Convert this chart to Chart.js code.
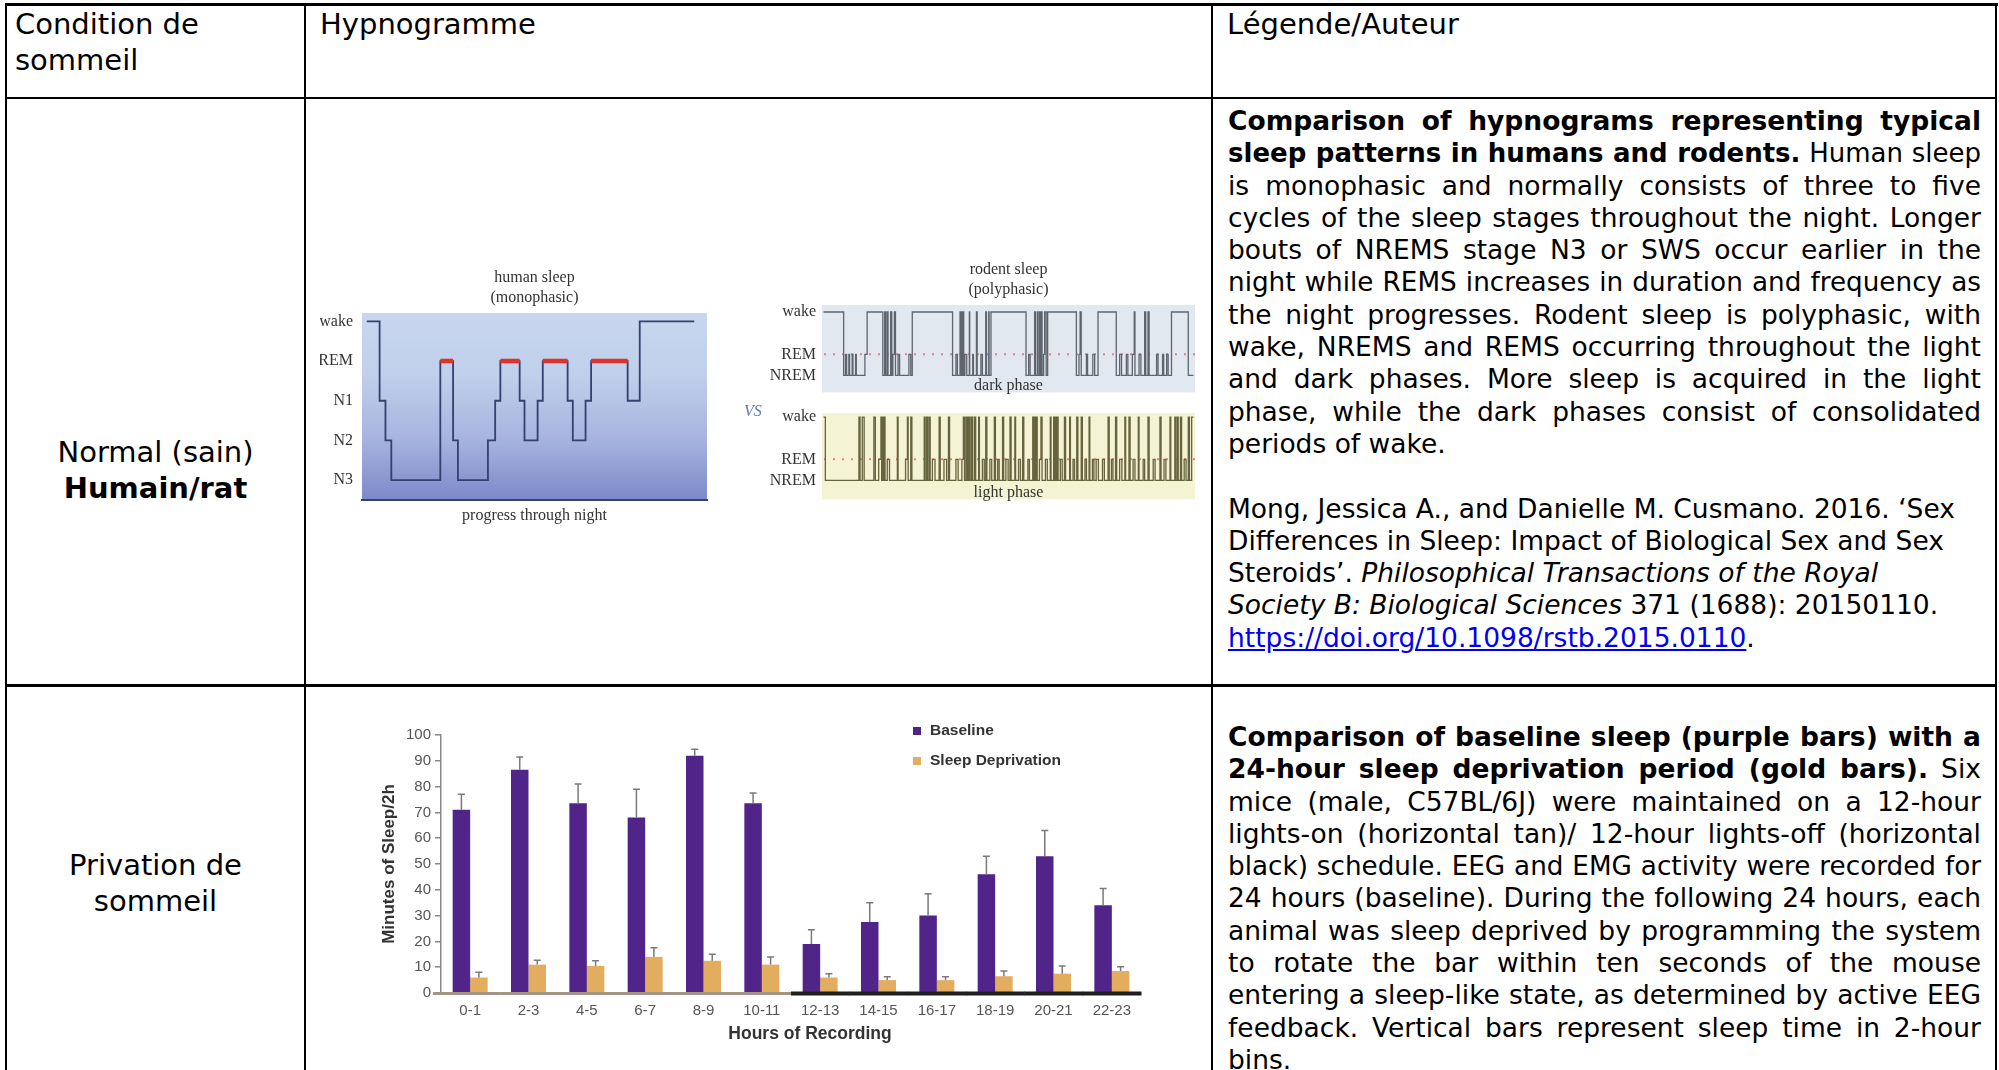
<!DOCTYPE html>
<html><head><meta charset="utf-8">
<script src="https://cdn.jsdelivr.net/npm/chart.js@4.4.1/dist/chart.umd.min.js"></script>
<style>
html,body{margin:0;padding:0;background:#fff;}
#page{position:relative;width:1999px;height:1070px;overflow:hidden;font-family:"DejaVu Sans",Verdana,sans-serif;color:#000;}
.rule{position:absolute;background:#000;}
.c1{position:absolute;font-size:29px;line-height:36px;white-space:nowrap;}
.body{position:absolute;left:1228px;width:753px;font-size:26.5px;}
.ln{white-space:nowrap;height:32.3px;line-height:32.3px;overflow:visible;}
.j{text-align:justify;text-align-last:justify;}
canvas{position:absolute;}
a{color:#0000ee;text-decoration:underline;}
#vs{position:absolute;left:744px;top:402px;font:italic 16px "Liberation Serif",serif;color:#5b7fbf;}
</style></head>
<body><div id="page">
<!-- table rules -->
<div class="rule" style="left:5px;top:3px;width:1993px;height:3px"></div>
<div class="rule" style="left:5px;top:3px;width:2px;height:1067px"></div>
<div class="rule" style="left:304px;top:3px;width:2px;height:1067px"></div>
<div class="rule" style="left:1211px;top:3px;width:2px;height:1067px"></div>
<div class="rule" style="left:1995px;top:3px;width:2px;height:1067px"></div>
<div class="rule" style="left:5px;top:97px;width:1992px;height:2px"></div>
<div class="rule" style="left:5px;top:684px;width:1992px;height:3px"></div>

<!-- header -->
<div class="c1" style="left:15px;top:6px">Condition de<br>sommeil</div>
<div class="c1" style="left:320px;top:6px">Hypnogramme</div>
<div class="c1" style="left:1227px;top:6px">Légende/Auteur</div>

<!-- column 1 -->
<div class="c1" style="left:7px;width:297px;text-align:center;top:434px">Normal (sain)<br><b>Humain/rat</b></div>
<div class="c1" style="left:7px;width:297px;text-align:center;top:847px">Privation de<br>sommeil</div>

<!-- column 3, row 2 -->
<div class="body" style="top:105px">
<div class="ln j"><b>Comparison of hypnograms representing typical</b></div>
<div class="ln j"><b>sleep patterns in humans and rodents.</b> Human sleep</div>
<div class="ln j">is monophasic and normally consists of three to five</div>
<div class="ln j">cycles of the sleep stages throughout the night. Longer</div>
<div class="ln j">bouts of NREMS stage N3 or SWS occur earlier in the</div>
<div class="ln j">night while REMS increases in duration and frequency as</div>
<div class="ln j">the night progresses. Rodent sleep is polyphasic, with</div>
<div class="ln j">wake, NREMS and REMS occurring throughout the light</div>
<div class="ln j">and dark phases. More sleep is acquired in the light</div>
<div class="ln j">phase, while the dark phases consist of consolidated</div>
<div class="ln">periods of wake.</div>
<div class="ln"></div>
<div class="ln">Mong, Jessica A., and Danielle M. Cusmano. 2016. ‘Sex</div>
<div class="ln">Differences in Sleep: Impact of Biological Sex and Sex</div>
<div class="ln">Steroids’. <i>Philosophical Transactions of the Royal</i></div>
<div class="ln"><i>Society B: Biological Sciences</i> 371 (1688): 20150110.</div>
<div class="ln"><a href="#">https://doi.org/10.1098/rstb.2015.0110</a>.</div>
</div>

<!-- column 3, row 3 -->
<div class="body" style="top:721px">
<div class="ln j"><b>Comparison of baseline sleep (purple bars) with a</b></div>
<div class="ln j"><b>24-hour sleep deprivation period (gold bars).</b> Six</div>
<div class="ln j">mice (male, C57BL/6J) were maintained on a 12-hour</div>
<div class="ln j">lights-on (horizontal tan)/ 12-hour lights-off (horizontal</div>
<div class="ln j">black) schedule. EEG and EMG activity were recorded for</div>
<div class="ln j">24 hours (baseline). During the following 24 hours, each</div>
<div class="ln j">animal was sleep deprived by programming the system</div>
<div class="ln j">to rotate the bar within ten seconds of the mouse</div>
<div class="ln j">entering a sleep-like state, as determined by active EEG</div>
<div class="ln j">feedback. Vertical bars represent sleep time in 2-hour</div>
<div class="ln">bins.</div>
</div>

<canvas id="human" width="390" height="263" style="left:320px;top:262px"></canvas>
<canvas id="dark" width="460" height="153" style="left:740px;top:255px"></canvas>
<canvas id="light" width="460" height="120" style="left:740px;top:395px"></canvas>
<div id="vs">VS</div>
<canvas id="bars" width="800" height="345" style="left:360px;top:705px"></canvas>
</div>

<script>
// ---------------- DATA ----------------
// Human hypnogram (progress through night, 0-100) ; stages: 0=N3 1=N2 2=N1 3=REM 4=wake
const humanStageLabels = ['N3', 'N2', 'N1', 'REM', 'wake'];
const humanT = [1.4, 5.1, 6.8, 8.5, 22.7, 26.4, 27.8, 36.5, 38.6, 40.1, 45.7, 47.1, 50.9, 52.4, 59.6, 61.1, 64.8, 66.4, 77.0, 80.5, 96.3];
const humanStage = [4, 2, 1, 0, 3, 1, 0, 1, 2, 3, 2, 1, 2, 3, 2, 1, 2, 3, 2, 4, 4];
const remStart = [22.7, 40.1, 52.4, 66.4];
const remEnd = [26.4, 45.7, 59.6, 77.0];

// Rodent hypnograms (progress through phase, 0-100) ; stages: 0=NREM 1=REM 3=wake
const rodentStageValues = [0, 1, 3];
const rodentStageLabels = ['NREM', 'REM', 'wake'];
const darkT = [0.4,5.8,6.3,6.6,7.2,7.4,8.1,8.3,9.0,9.2, 11.5,12.1,16.3,16.8,17.0,17.4,17.7,18.4,18.7,19.0,
  19.4,19.7,20.4,20.8,23.3,23.8,24.2,35.0,35.9,36.3, 37.0,37.1,37.4,37.6,37.8,38.0,38.3,38.8,39.5,39.6,
  40.4,40.6,41.4,41.6,42.6,43.0,43.9,44.1,44.7,44.8, 45.3,54.7,55.4,55.8,57.0,57.2,57.7,57.9,58.3,58.5,
  58.8,59.0,59.4,59.7,60.1,60.5,68.2,68.9,69.2,69.5, 70.9,71.2,72.6,73.1,74.0,78.9,79.8,80.3,81.6,82.0,
  83.2,83.7,83.9,85.0,85.5,86.5,86.8,87.4,87.7,89.7, 90.1,91.3,91.6,92.4,92.8,93.7,98.2,99.6];
const darkStage = [3,0,1,0,1,0,1,0,1,0, 1,3,0,3,0,3,0,3,0,1, 3,0,1,0,1,0,3,0,1,0, 3,0,3,0,3,0,1,0,3,0,
  1,0,3,0,1,0,3,0,3,0, 3,0,1,0,3,0,3,0,3,0, 3,0,1,3,0,3,0,1,3,0, 1,0,1,0,3,0,1,0,1,0,
  1,3,0,1,0,3,0,3,0,1, 0,1,0,1,0,3,0,0];
const lightT = [0.4,0.9,9.9,10.2,10.8,11.3,13.9,14.3,15.2,15.8, 16.0,16.2,16.4,16.7,16.9,17.5,18.1,20.2,20.4,22.4,
  22.9,23.1,23.8,24.1,27.4,27.6,28.0,28.3,28.7,29.0, 29.6,30.3,31.4,31.7,32.7,33.4,33.9,34.2,35.9,36.5,
  37.5,37.9,38.2,38.6,38.8,39.1,39.3,39.6,39.7,40.1, 40.4,40.9,41.2,42.0,42.2,43.0,43.5,43.9,44.2,45.0,
  45.5,46.2,46.5,47.1,47.5,48.4,48.7,49.3,49.9,50.4, 50.7,51.7,51.9,52.7,53.2,53.8,54.1,55.2,55.6,56.5,
  56.7,57.0,57.1,57.4,57.7,58.3,58.7,59.0,59.9,60.4, 61.2,61.4,62.1,62.2,62.5,62.7,63.0,63.3,63.9,64.4,
  65.0,65.3,66.4,66.6,67.3,67.7,68.3,68.6,69.5,69.8, 70.5,70.9,71.6,71.8,72.5,72.9,73.5,74.1,75.2,75.7,
  76.7,77.0,77.6,78.0,78.7,79.0,79.8,80.4,81.2,81.4, 82.3,82.6,83.4,83.9,84.8,85.0,86.1,86.5,87.4,87.7,
  88.8,89.3,90.6,90.9,91.7,92.2,93.3,93.5,94.6,94.8, 95.2,95.5,96.1,96.4,97.1,97.6,98.2,98.5,99.1,99.6];
const lightStage = [3,0,3,0,3,0,3,0,1,3, 0,3,0,3,0,1,0,3,0,1, 3,0,3,0,3,0,3,0,3,0, 1,0,3,0,1,0,3,0,1,0,
  1,3,0,3,0,3,0,3,0,3, 0,3,0,3,0,1,0,3,0,1, 0,3,0,1,0,3,0,1,0,3, 0,3,0,1,0,3,0,1,0,3,
  0,3,0,3,0,1,3,0,1,0, 3,0,3,0,3,0,3,0,1,0, 3,0,3,0,1,0,3,0,3,0, 1,0,3,0,1,0,1,0,1,0,
  3,0,1,0,3,0,1,0,3,0, 3,0,1,0,3,0,1,0,3,0, 1,0,3,0,1,0,3,0,3,0, 3,0,3,0,1,0,3,0,3,3];

// Sleep deprivation bar chart
const hourLabels = ['0-1','2-3','4-5','6-7','8-9','10-11','12-13','14-15','16-17','18-19','20-21','22-23'];
const baseline = [71, 86.5, 73.5, 68, 92, 73.5, 19, 27.5, 30, 46, 53, 34];
const baselineErr = [6, 5, 7.5, 11, 2.5, 4, 5.5, 7.5, 8.5, 7, 10, 6.5];
const deprivation = [6, 11, 10.5, 14, 12.5, 11, 6, 5, 5, 6.5, 7.5, 8.5];
const deprivationErr = [2, 1.7, 2, 3.5, 2.5, 3, 1.5, 1.3, 1.3, 2, 3, 1.7];
const lightsOff = [0,0,0,0,0,0,1,1,1,1,1,1];
const yTicksBar = [0,10,20,30,40,50,60,70,80,90,100];
const barXTitle = 'Hours of Recording';

// ---------------- text line fitting ----------------
document.querySelectorAll('.ln').forEach(el => {
  let fs = 26.5;
  while (el.scrollWidth > el.clientWidth + 0.5 && fs > 20) { fs -= 0.25; el.style.fontSize = fs + 'px'; }
});

// ---------------- CHARTS ----------------
Chart.defaults.font.family = "'Liberation Sans', Arial, sans-serif";
Chart.defaults.animation = false;
const serif = "'Liberation Serif', 'Times New Roman', serif";

const decor = {
  id: 'decor',
  beforeDraw(chart, args, o) {
    if (!o.bg) return;
    const a = chart.chartArea, ctx = chart.ctx;
    ctx.save();
    if (Array.isArray(o.bg)) {
      const g = ctx.createLinearGradient(0, a.top, 0, a.bottom);
      o.bg.forEach((c, i) => g.addColorStop(i / (o.bg.length - 1), c));
      ctx.fillStyle = g;
    } else ctx.fillStyle = o.bg;
    ctx.fillRect(a.left, a.top, a.right - a.left, a.bottom - a.top);
    ctx.restore();
  },
  beforeDatasetsDraw(chart, args, o) {
    if (o.refLevel === undefined) return;
    const a = chart.chartArea, ctx = chart.ctx, y = chart.scales.y.getPixelForValue(o.refLevel);
    ctx.save();
    ctx.strokeStyle = '#e48080'; ctx.lineWidth = 2; ctx.setLineDash([2, 7]);
    ctx.beginPath(); ctx.moveTo(a.left + 2, y); ctx.lineTo(a.right, y); ctx.stroke();
    ctx.restore();
  },
  afterDraw(chart, args, o) {
    const a = chart.chartArea, ctx = chart.ctx, cx = (a.left + a.right) / 2;
    ctx.save();
    ctx.fillStyle = '#333'; ctx.font = '16px ' + serif; ctx.textAlign = 'center'; ctx.textBaseline = 'middle';
    if (o.title) o.title.forEach((t, i) => ctx.fillText(t, cx, a.top - o.titleOffset + i * 20));
    if (o.phase) ctx.fillText(o.phase, cx, a.bottom - 7);
    ctx.restore();
  }
};
Chart.register(decor);

function stagePts(ts, ss) { return ts.map((t, i) => ({ x: t, y: ss[i] })); }

// Human hypnogram
const remPts = [];
remStart.forEach((s, i) => { remPts.push({ x: s, y: 3 }, { x: remEnd[i], y: 3 }, { x: remEnd[i], y: null }); });
new Chart(document.getElementById('human'), {
  type: 'line',
  data: { datasets: [
    { data: remPts, borderColor: '#e4302a', borderWidth: 4.5, pointRadius: 0, spanGaps: false, borderCapStyle: 'butt' },
    { data: stagePts(humanT, humanStage), stepped: true, borderColor: '#34406e', borderWidth: 1.8, pointRadius: 0 }
  ] },
  options: {
    responsive: false, layout: { padding: { top: 51, right: 3, left: 0, bottom: 0 } },
    plugins: { legend: { display: false }, tooltip: { enabled: false },
      decor: { bg: ['#c8d7ee', '#c0cfeb', '#a8b4df', '#7c89c9'], title: ['human sleep', '(monophasic)'], titleOffset: 35 } },
    scales: {
      x: { type: 'linear', min: 0, max: 100, grid: { display: false, drawTicks: false }, ticks: { display: false },
        border: { display: true, color: '#36426a', width: 2 },
        title: { display: true, text: 'progress through night', color: '#333', font: { family: serif, size: 16, lineHeight: 1.2 }, padding: { top: 0, bottom: 0 } },
        afterFit: s => { s.height = 25; } },
      y: { min: -0.5, max: 4.21, grid: { display: false, drawTicks: false }, border: { display: false },
        afterBuildTicks: s => { s.ticks = humanStageLabels.map((_, i) => ({ value: i })); },
        ticks: { padding: 9, color: '#333', font: { family: serif, size: 16 }, callback: v => humanStageLabels[v] },
        afterFit: s => { s.width = 42; } }
    }
  }
});

function rodentChart(id, ts, ss, opts) {
  return new Chart(document.getElementById(id), {
    type: 'line',
    data: { datasets: [{ data: stagePts(ts, ss), stepped: true, borderColor: opts.color, borderWidth: 1.3, pointRadius: 0 }] },
    options: {
      responsive: false, layout: { padding: { top: opts.padTop, right: 5, left: 0, bottom: 10 } },
      plugins: { legend: { display: false }, tooltip: { enabled: false },
        decor: { bg: opts.bg, title: opts.title, titleOffset: 35, phase: opts.phase, refLevel: 1 } },
      scales: {
        x: { type: 'linear', min: 0, max: 100, display: false },
        y: { min: opts.ymin, max: opts.ymax, grid: { display: false, drawTicks: false }, border: { display: false },
          afterBuildTicks: s => { s.ticks = rodentStageValues.map(v => ({ value: v })); },
          ticks: { padding: 6, color: '#333', font: { family: serif, size: 16 },
            callback: v => rodentStageLabels[rodentStageValues.indexOf(v)] },
          afterFit: s => { s.width = 82; } }
      }
    }
  });
}
rodentChart('dark', darkT, darkStage, { color: '#5e656f', bg: '#e2e8ef', title: ['rodent sleep', '(polyphasic)'], phase: 'dark phase', padTop: 50, ymin: -0.8, ymax: 3.33 });
rodentChart('light', lightT, lightStage, { color: '#66643f', bg: '#f4f3d3', phase: 'light phase', padTop: 18, ymin: -0.9, ymax: 3.2 });

// Bar chart
const barExtras = {
  id: 'barExtras',
  afterDatasetsDraw(chart) {
    const { ctx, chartArea: a, scales: { x, y } } = chart;
    ctx.save();
    // error bars
    ctx.strokeStyle = '#7a7a7a'; ctx.lineWidth = 1.5;
    chart.data.datasets.forEach((ds, di) => {
      chart.getDatasetMeta(di).data.forEach((bar, i) => {
        const yb = y.getPixelForValue(ds.data[i]), yt = y.getPixelForValue(ds.data[i] + ds.errors[i]);
        ctx.beginPath(); ctx.moveTo(bar.x, yb); ctx.lineTo(bar.x, yt);
        ctx.moveTo(bar.x - 3.5, yt); ctx.lineTo(bar.x + 3.5, yt); ctx.stroke();
      });
    });
    // light/dark schedule axis line
    const half = (x.getPixelForValue(1) - x.getPixelForValue(0)) / 2;
    lightsOff.forEach((off, i) => {
      const cx = x.getPixelForValue(i);
      const x0 = i === 0 ? a.left - 8 : cx - half, x1 = cx + half;
      ctx.beginPath(); ctx.strokeStyle = off ? '#1e1e1e' : '#a39583'; ctx.lineWidth = off ? 4 : 3;
      ctx.moveTo(x0, a.bottom + 0.5); ctx.lineTo(x1 + 0.5, a.bottom + 0.5); ctx.stroke();
    });
    // legend
    ctx.font = 'bold 15.5px "Liberation Sans", Arial, sans-serif'; ctx.textBaseline = 'middle'; ctx.textAlign = 'left';
    chart.data.datasets.forEach((ds, di) => {
      const ly = a.top - 4 + di * 30;
      ctx.fillStyle = ds.backgroundColor; ctx.fillRect(a.left + 472, ly - 4, 8, 8);
      ctx.fillStyle = '#333'; ctx.fillText(ds.label, a.left + 489, ly);
    });
    // x-axis title (centred under the figure as in the source)
    ctx.font = 'bold 17.5px "Liberation Sans", Arial, sans-serif'; ctx.textAlign = 'center';
    ctx.fillText(barXTitle, (a.left + a.right) / 2 + 19, a.bottom + 41);
    ctx.restore();
  }
};
new Chart(document.getElementById('bars'), {
  type: 'bar',
  data: { labels: hourLabels, datasets: [
    { label: 'Baseline', data: baseline, errors: baselineErr, backgroundColor: '#512489' },
    { label: 'Sleep Deprivation', data: deprivation, errors: deprivationErr, backgroundColor: '#e3ad60' }
  ] },
  options: {
    responsive: false, categoryPercentage: 0.6, barPercentage: 1.0,
    layout: { padding: { top: 30, right: 19, left: 0, bottom: 0 } },
    plugins: { legend: { display: false }, tooltip: { enabled: false } },
    scales: {
      x: { grid: { display: false, drawTicks: false }, border: { display: false },
        ticks: { padding: 9, color: '#555', font: { size: 15 } },
        afterFit: s => { s.height = 57; } },
      y: { min: 0, max: 100,
        afterBuildTicks: s => { s.ticks = yTicksBar.map(v => ({ value: v })); },
        grid: { display: true, drawOnChartArea: false, drawTicks: true, tickLength: 6, color: '#888', lineWidth: 1.5 },
        border: { display: true, color: '#888', width: 1.5 },
        ticks: { padding: 4, color: '#555', font: { size: 15 } },
        title: { display: true, text: 'Minutes of Sleep/2h', color: '#333', font: { size: 17, weight: 'bold', lineHeight: 1.2 }, padding: { top: 19, bottom: 0 } },
        afterFit: s => { s.width = 81; } }
    }
  },
  plugins: [barExtras]
});
</script>
</body></html>
